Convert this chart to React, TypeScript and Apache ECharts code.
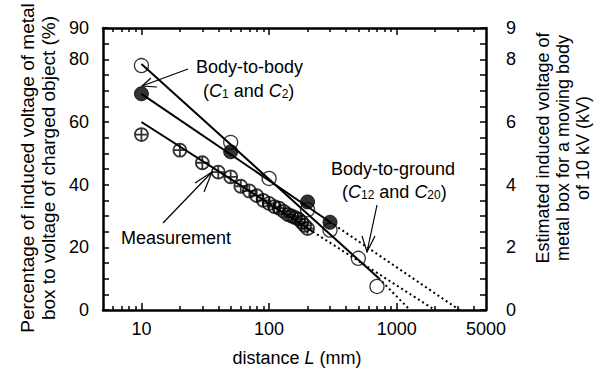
import React, { useEffect, useRef } from "react";
import * as echarts from "echarts";

// Open circles (body-to-body / body-to-ground estimates)
const openX = [10, 50, 100, 200, 300, 500, 700];
const openY = [78, 53.5, 42, 32, 25.5, 16.5, 7.5];
// Filled circles
const filledX = [10, 50, 200, 300];
const filledY = [69, 50.5, 34.5, 28];
// Measurement (circle with cross)
const measX = [10, 20, 30, 40, 50, 60, 70, 80, 90, 100, 110, 120, 130, 140, 150, 160, 170, 180, 190, 200];
const measY = [56, 51, 47, 44, 42.5, 39.5, 38, 36.5, 35, 34, 33, 32.5, 31.5, 30.5, 30, 29.5, 29, 28, 27, 26];

// Fit lines (endpoints)
const fitOpenSolid = [[10, 78.5], [720, 10.2]];
const fitOpenDotted = [[720, 10.2], [1270, 0]];
const fitFilledSolid = [[10, 69], [300, 28.1]];
const fitFilledDotted = [[300, 28.1], [3100, 0]];
const fitMeasSolid = [[10, 60], [220, 25]];
const fitMeasDotted = [[220, 25], [1990, 0]];

// Axis ticks / labels
const xMajorTicks = [10, 100, 1000];
const xMinorTicks = [6, 7, 8, 9, 20, 30, 40, 50, 60, 70, 80, 90, 200, 300, 400, 500, 600, 700, 800, 900, 2000, 3000, 4000];
const xTickLabels = [10, 100, 1000, 5000];
const leftLabels = [0, 20, 40, 60, 80, 90];
const rightLabels = [0, 2, 4, 6, 8, 9];

const FONT = "'Liberation Sans', Arial, sans-serif";

export default function App() {
  const ref = useRef<HTMLDivElement>(null);
  useEffect(() => {
    const chart = echarts.init(ref.current!, null, { renderer: "svg" });
    const lg = (v: number) => Math.log10(v);
    const xMin = 5;
    const xMax = 5000;

    const tickAxis = (position: string, ticks: number[], len: number, showLine: boolean, labels?: number[]) => ({
      type: "value",
      gridIndex: 0,
      position,
      min: lg(xMin),
      max: lg(xMax),
      axisLine: { show: showLine, onZero: false, lineStyle: { color: "#000", width: 2.5 } },
      axisTick: {
        show: true,
        inside: true,
        length: len,
        customValues: ticks.map(lg),
        lineStyle: { color: "#000", width: 1.5 },
      },
      axisLabel: labels
        ? {
            show: true,
            customValues: labels.map(lg),
            formatter: (v: number) => String(Math.round(Math.pow(10, v))),
            color: "#000",
            fontSize: 18,
            fontFamily: FONT,
            margin: 10,
          }
        : { show: false },
      splitLine: { show: false },
    });

    const lineSeries = (data: number[][], dotted: boolean) => ({
      type: "line",
      xAxisIndex: 0,
      yAxisIndex: 0,
      data,
      symbol: "none",
      z: 2,
      lineStyle: { color: "#000", width: 2, type: dotted ? [2, 3] : "solid" },
    });

    const measSymbol =
      "path://M10,0A10,10,0,1,1,10,20A10,10,0,1,1,10,0ZM0,10L20,10M10,0L10,20";

    const richC = {
      i: { fontStyle: "italic", fontSize: 18, fontFamily: FONT, fill: "#000" },
      s: { fontSize: 12, fontFamily: FONT, verticalAlign: "bottom", fill: "#000" },
      n: { fontSize: 18, fontFamily: FONT, fill: "#000" },
    };

    const text = (x: number, y: number, t: string, extra: any = {}) => ({
      type: "text",
      x,
      y,
      style: {
        text: t,
        fontSize: 18,
        fontFamily: FONT,
        fill: "#000",
        align: "left",
        verticalAlign: "middle",
        ...extra,
      },
    });
    const seg = (pts: number[][], w = 1.2) => ({
      type: "polyline",
      shape: { points: pts },
      style: { stroke: "#000", lineWidth: w, fill: "none" },
    });

    chart.setOption({
      animation: false,
      backgroundColor: "#fff",
      grid: { left: 103, right: 112, top: 28, bottom: 62, containLabel: false },
      xAxis: [
        {
          type: "log",
          logBase: 10,
          min: xMin,
          max: xMax,
          gridIndex: 0,
          show: false,
          splitLine: { show: false },
        },
        tickAxis("bottom", xMajorTicks, 7, true, xTickLabels),
        tickAxis("bottom", xMinorTicks, 4, false),
        tickAxis("top", xMajorTicks, 7, true),
        tickAxis("top", xMinorTicks, 4, false),
      ],
      yAxis: [
        {
          type: "value",
          position: "left",
          min: 0,
          max: 90,
          interval: 5,
          axisLine: { show: true, onZero: false, lineStyle: { color: "#000", width: 2.5 } },
          axisTick: { show: true, inside: true, length: 6, lineStyle: { color: "#000", width: 1.5 } },
          axisLabel: {
            color: "#000",
            fontSize: 18,
            fontFamily: FONT,
            margin: 14,
            formatter: (v: number) => (leftLabels.indexOf(v) >= 0 ? String(v) : ""),
          },
          splitLine: { show: false },
        },
        {
          type: "value",
          position: "right",
          min: 0,
          max: 9,
          interval: 0.5,
          axisLine: { show: true, onZero: false, lineStyle: { color: "#000", width: 2.5 } },
          axisTick: { show: true, inside: true, length: 6, lineStyle: { color: "#000", width: 1.5 } },
          axisLabel: {
            color: "#000",
            fontSize: 18,
            fontFamily: FONT,
            margin: 20,
            formatter: (v: number) => (rightLabels.indexOf(v) >= 0 ? String(v) : ""),
          },
          splitLine: { show: false },
        },
      ],
      series: [
        lineSeries(fitOpenSolid, false),
        lineSeries(fitOpenDotted, true),
        lineSeries(fitFilledSolid, false),
        lineSeries(fitFilledDotted, true),
        lineSeries(fitMeasSolid, false),
        lineSeries(fitMeasDotted, true),
        {
          type: "scatter",
          xAxisIndex: 0,
          yAxisIndex: 0,
          z: 3,
          symbol: measSymbol,
          symbolSize: 13,
          data: measX.map((x, i) => [x, measY[i]]),
          itemStyle: { color: "rgba(0,0,0,0)", borderColor: "#000", borderWidth: 1.8 },
        },
        {
          type: "scatter",
          xAxisIndex: 0,
          yAxisIndex: 0,
          z: 4,
          symbol: "circle",
          symbolSize: 14,
          data: filledX.map((x, i) => [x, filledY[i]]),
          itemStyle: { color: "#000", borderColor: "#000", borderWidth: 1 },
        },
        {
          type: "scatter",
          xAxisIndex: 0,
          yAxisIndex: 0,
          z: 5,
          symbol: "circle",
          symbolSize: 14,
          data: openX.map((x, i) => [x, openY[i]]),
          itemStyle: { color: "rgba(0,0,0,0)", borderColor: "#000", borderWidth: 1.3 },
        },
      ],
      graphic: [
        // annotations
        text(196, 67, "Body-to-body"),
        text(203, 91, "({i|C}{s|1} and {i|C}{s|2})", { rich: richC }),
        seg([[188, 69], [142, 86]]),
        seg([[157, 87], [142, 86], [151, 78]]),
        text(331, 169, "Body-to-ground"),
        text(342, 192, "({i|C}{s|12} and {i|C}{s|20})", { rich: richC }),
        seg([[377, 205], [367, 252]]),
        seg([[362, 236], [367, 252], [375, 236]]),
        text(121, 238, "Measurement"),
        seg([[163, 223], [212, 172]]),
        seg([[195, 183], [212, 172], [204, 192]]),
        // axis titles
        {
          type: "text",
          x: 38,
          y: 168,
          rotation: Math.PI / 2,
          style: {
            text: "Percentage of induced voltage of metal\nbox to voltage of charged object (%)",
            fontSize: 19,
            lineHeight: 21,
            fontFamily: FONT,
            fill: "#000",
            align: "center",
            verticalAlign: "middle",
          },
        },
        {
          type: "text",
          x: 563,
          y: 148,
          rotation: Math.PI / 2,
          style: {
            text: "Estimated induced voltage of\nmetal box for a moving body\nof 10 kV (kV)",
            fontSize: 18,
            lineHeight: 20,
            fontFamily: FONT,
            fill: "#000",
            align: "center",
            verticalAlign: "middle",
          },
        },
        {
          type: "text",
          x: 297,
          y: 358,
          style: {
            text: "distance {i|L} (mm)",
            fontSize: 18,
            fontFamily: FONT,
            fill: "#000",
            align: "center",
            verticalAlign: "middle",
            rich: richC,
          },
        },
      ],
    });
    return () => chart.dispose();
  }, []);
  return <div ref={ref} style={{ width: 598, height: 372, position: "fixed", left: 0, top: 0 }} />;
}
